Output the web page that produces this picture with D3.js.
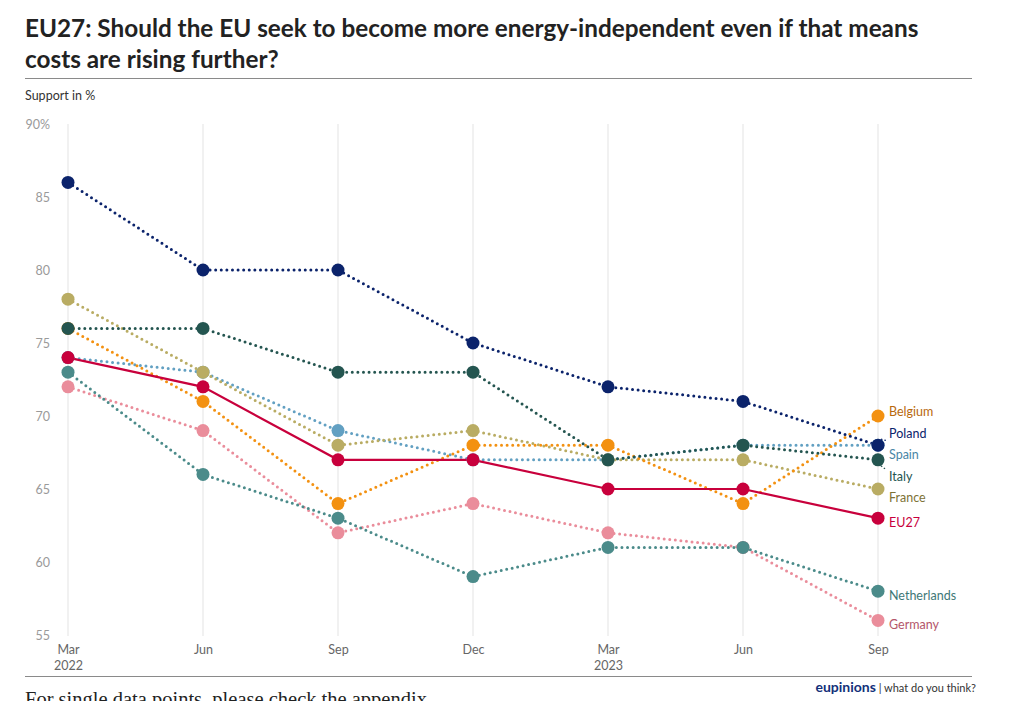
<!DOCTYPE html>
<html><head><meta charset="utf-8">
<script src="https://cdn.jsdelivr.net/npm/d3@7"></script>
<style>
html,body{margin:0;padding:0;background:#fff;overflow:hidden;}
svg{display:block;font-family:Lato,"Open Sans",sans-serif;}
</style></head>
<body>
<svg id="chart" width="1014" height="701"></svg>
<script>
const periods = ["Mar 2022","Jun 2022","Sep 2022","Dec 2022","Mar 2023","Jun 2023","Sep 2023"];
const tickMonth = ["Mar","Jun","Sep","Dec","Mar","Jun","Sep"];
const tickYear = ["2022","","","","2023","",""];
const yTicks = [55,60,65,70,75,80,85,90];

const germany     = [72,69,62,64,62,61,56];
const netherlands = [73,66,63,59,61,61,58];
const spain       = [74,73,69,67,67,68,68];
const france      = [78,73,68,69,67,67,65];
const belgium     = [76,71,64,68,68,64,70];
const italy       = [76,76,73,73,67,68,67];
const poland      = [86,80,80,75,72,71,68];
const eu27        = [74,72,67,67,65,65,63];

const series = [
  {name:"Germany", values:germany, color:"#ea8d9b", label:"#b4566a", dotted:true},
  {name:"Netherlands", values:netherlands, color:"#4b8b8a", label:"#3e7877", dotted:true},
  {name:"Spain", values:spain, color:"#62a0c2", label:"#4a86a6", dotted:true},
  {name:"France", values:france, color:"#b9ac63", label:"#7d7236", dotted:true},
  {name:"Belgium", values:belgium, color:"#f39111", label:"#b8680c", dotted:true},
  {name:"Italy", values:italy, color:"#245550", label:"#245550", dotted:true},
  {name:"Poland", values:poland, color:"#0b236b", label:"#0b236b", dotted:true},
  {name:"EU27", values:eu27, color:"#c8003c", label:"#c8003c", dotted:false}
];

const svg = d3.select("#chart");
const x = d3.scalePoint().domain(periods).range([68,878]);
const y = d3.scaleLinear().domain([55,90]).range([635,124]);

// Title
svg.append("text").attr("x",25).attr("y",37).attr("font-size",24.3).attr("font-weight",700).attr("fill","#222")
  .text("EU27: Should the EU seek to become more energy-independent even if that means");
svg.append("text").attr("x",25).attr("y",68).attr("font-size",24.3).attr("font-weight",700).attr("fill","#222")
  .text("costs are rising further?");
svg.append("line").attr("x1",25).attr("x2",972).attr("y1",78.5).attr("y2",78.5).attr("stroke","#8a8a8a").attr("stroke-width",1);
svg.append("text").attr("x",25).attr("y",100).attr("font-size",12.5).attr("fill","#333").text("Support in %");

// gridlines
svg.append("g").selectAll("line").data(periods).join("line")
  .attr("x1",d=>x(d)).attr("x2",d=>x(d)).attr("y1",y(90)).attr("y2",y(55)+1)
  .attr("stroke","#e3e3e3").attr("stroke-width",1);

// y axis
const yAxis = d3.axisLeft(y).tickValues(yTicks).tickSize(0).tickPadding(0)
  .tickFormat(d=> d===90 ? "90%" : d);
const yg = svg.append("g").attr("transform","translate(50,0)").call(yAxis);
yg.select(".domain").remove();
yg.selectAll("text").attr("font-size",12.5).attr("fill","#9a9a9a").attr("font-family","Lato,sans-serif");

// x axis
const xAxis = d3.axisBottom(x).tickSize(0).tickPadding(0).tickFormat((d,i)=>tickMonth[i]);
const xg = svg.append("g").attr("transform","translate(0,645)").call(xAxis);
xg.select(".domain").remove();
xg.selectAll("text").attr("font-size",12.5).attr("fill","#666").attr("font-family","Lato,sans-serif").attr("dy","0.71em");
xg.selectAll(".tick").append("text").attr("y",16.5).attr("dy","0.71em").attr("font-size",12.5).attr("fill","#666")
  .attr("font-family","Lato,sans-serif").attr("text-anchor","middle").text((d,i)=>tickYear[i]);

// lines
const line = d3.line().x((d,i)=>x(periods[i])).y(d=>y(d));
const g = svg.append("g");
series.forEach(s=>{
  g.append("path").datum(s.values).attr("d",line).attr("fill","none")
    .attr("stroke",s.color).attr("stroke-width",s.dotted?3:2.2)
    .attr("stroke-dasharray",s.dotted?"0 5.6":null)
    .attr("stroke-linecap",s.dotted?"round":"butt");
});
series.forEach(s=>{
  g.append("g").selectAll("circle").data(s.values).join("circle")
    .attr("cx",(d,i)=>x(periods[i])).attr("cy",d=>y(d)).attr("r",6.5).attr("fill",s.color);
});

// end labels with collision resolution
const n = periods.length;
const labels = series.map(s=>({s, target:y(s.values[n-1]), prev:y(s.values[n-2])}));
labels.sort((a,b)=>(a.target-b.target) || (a.prev-b.prev));
const gap = 21.5;
let groups = labels.map(l=>({items:[l], mean:l.target}));
let changed = true;
while(changed){
  changed=false;
  for(let i=0;i<groups.length-1;i++){
    const a=groups[i], b=groups[i+1];
    const aEnd = a.mean + (a.items.length-1)*gap/2;
    const bStart = b.mean - (b.items.length-1)*gap/2;
    if(bStart - aEnd < gap){
      const items=a.items.concat(b.items);
      const mean=d3.mean(items,d=>d.target);
      groups.splice(i,2,{items,mean});
      changed=true;break;
    }
  }
}
groups.forEach(gr=>{
  gr.items.forEach((it,k)=>{ it.pos = gr.mean + (k-(gr.items.length-1)/2)*gap + 4; });
});
const lx = x(periods[n-1]);
labels.forEach(l=>{
  const diff = l.pos - l.target;
  if(Math.abs(diff)>10){
    const dir = diff>0?1:-1;
    svg.append("line").attr("x1",lx+3).attr("y1",l.target+dir*6).attr("x2",lx+8).attr("y2",l.pos-dir*7)
      .attr("stroke",l.s.color).attr("stroke-width",1.3).attr("stroke-dasharray","1.5 2");
  }
  svg.append("text").attr("x",lx+11).attr("y",l.pos).attr("dy","0.35em").attr("font-size",12.5)
    .attr("fill",l.s.label).text(l.s.name);
});

// bottom rule and footer
svg.append("line").attr("x1",25).attr("x2",972).attr("y1",676.5).attr("y2",676.5).attr("stroke","#8a8a8a").attr("stroke-width",1);
const ft = svg.append("text").attr("x",976).attr("y",692).attr("text-anchor","end");
ft.append("tspan").attr("font-size",14).attr("font-weight",700).attr("fill","#13307a").text("eupinions");
ft.append("tspan").attr("font-size",11).attr("fill","#333").text(" | what do you think?");
svg.append("text").attr("x",25).attr("y",706).attr("font-size",20.5).attr("font-family","'Liberation Serif','DejaVu Serif',serif")
  .attr("fill","#222").text("For single data points, please check the appendix");
</script>
</body></html>
